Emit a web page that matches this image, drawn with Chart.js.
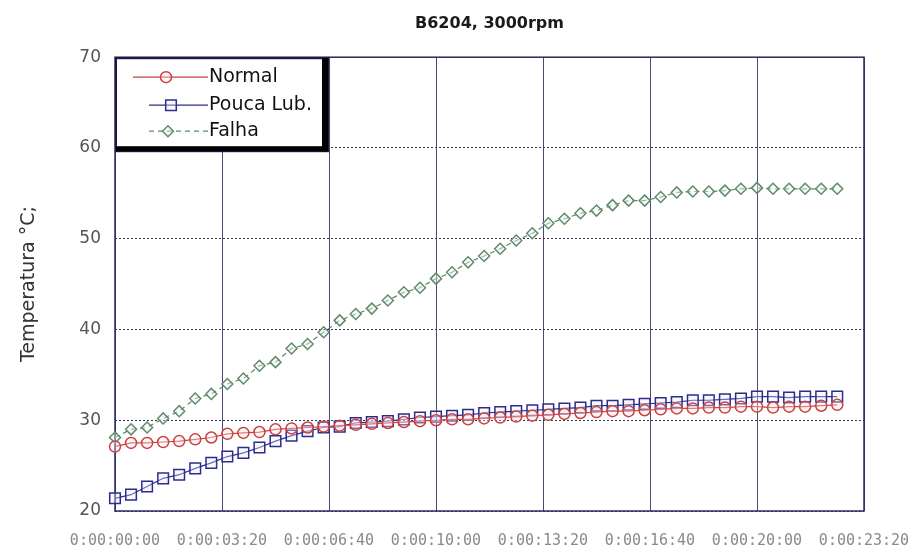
<!DOCTYPE html>
<html>
<head>
<meta charset="utf-8">
<title>B6204, 3000rpm</title>
<script src="https://cdn.jsdelivr.net/npm/chart.js@4.4.1/dist/chart.umd.min.js"></script>
<style>
  html, body { margin: 0; padding: 0; background: #fff; }
  #wrap { width: 913px; height: 553px; }
</style>
</head>
<body>
<div id="wrap"><canvas id="tempChart" width="913" height="553"></canvas></div>
<script>
// ===============================
// Data (time in seconds, temperature in °C)
// ===============================
const timeSec = [0, 30, 60, 90, 120, 150, 180, 210, 240, 270, 300, 330, 360, 390, 420, 450,
  480, 510, 540, 570, 600, 630, 660, 690, 720, 750, 780, 810, 840, 870, 900, 930, 960, 990,
  1020, 1050, 1080, 1110, 1140, 1170, 1200, 1230, 1260, 1290, 1320, 1350];

const xTickValues = [0, 200, 400, 600, 800, 1000, 1200, 1400];
const xTickLabels = ["0:00:00:00", "0:00:03:20", "0:00:06:40", "0:00:10:00",
  "0:00:13:20", "0:00:16:40", "0:00:20:00", "0:00:23:20"];
const yTickValues = [20, 30, 40, 50, 60, 70];

const normalTemps = [27.1, 27.5, 27.5, 27.6, 27.7, 27.9, 28.1, 28.5, 28.6, 28.7, 29.0, 29.1,
  29.2, 29.3, 29.4, 29.5, 29.6, 29.7, 29.8, 29.9, 30.0, 30.1, 30.1, 30.2, 30.3, 30.4, 30.5,
  30.6, 30.7, 30.8, 30.9, 31.0, 31.0, 31.1, 31.2, 31.3, 31.3, 31.4, 31.4, 31.5, 31.5, 31.4,
  31.5, 31.5, 31.6, 31.7];

const poucaLubTemps = [21.4, 21.8, 22.7, 23.6, 24.0, 24.7, 25.3, 26.0, 26.4, 27.0, 27.7, 28.3,
  28.8, 29.2, 29.3, 29.7, 29.8, 29.9, 30.1, 30.3, 30.4, 30.5, 30.6, 30.8, 30.9, 31.0, 31.1,
  31.2, 31.3, 31.4, 31.6, 31.6, 31.7, 31.8, 31.9, 32.0, 32.2, 32.2, 32.3, 32.4, 32.6, 32.6,
  32.5, 32.6, 32.6, 32.6];

const falhaTemps = [28.1, 29.0, 29.2, 30.2, 31.0, 32.4, 32.9, 34.0, 34.6, 36.0, 36.4, 37.9,
  38.4, 39.7, 41.0, 41.7, 42.3, 43.2, 44.1, 44.6, 45.6, 46.3, 47.4, 48.1, 48.9, 49.8, 50.6,
  51.7, 52.2, 52.8, 53.1, 53.7, 54.2, 54.2, 54.6, 55.1, 55.2, 55.2, 55.3, 55.5, 55.6, 55.5,
  55.5, 55.5, 55.5, 55.5];

const seriesNames = ["Normal", "Pouca Lub.", "Falha"];

const toPoints = temps => timeSec.map((t, i) => ({ x: t, y: temps[i] }));

// ===============================
// Plot frame (box round the axes)
// ===============================
const plotFrame = {
  id: "plotFrame",
  beforeDatasetsDraw(chart) {
    const { ctx, chartArea: a } = chart;
    ctx.save();
    ctx.strokeStyle = "#2b2b66";
    ctx.lineWidth = 1.5;
    ctx.strokeRect(a.left, a.top, a.right - a.left, a.bottom - a.top);
    ctx.restore();
  }
};

// ===============================
// Legend box, upper left corner
// ===============================
const legendBox = {
  id: "legendBox",
  afterDatasetsDraw(chart) {
    const { ctx, chartArea: a } = chart;
    const x = a.left + 1, y = a.top + 1, w = 212, h = 93;
    const rows = [
      { y: y + 19, x0: x + 17, marker: x + 50 },
      { y: y + 47, x0: x + 33, marker: x + 55 },
      { y: y + 73, x0: x + 33, marker: x + 52 }
    ];
    ctx.save();
    ctx.fillStyle = "#fff";
    ctx.fillRect(x, y, w, h);
    ctx.strokeStyle = "#1a1a40";
    ctx.lineWidth = 2;
    ctx.strokeRect(x, y, w, h);
    ctx.fillStyle = "#000";
    ctx.fillRect(x + w - 6, y, 6, h);
    ctx.fillRect(x, y + h - 5, w, 5);

    chart.data.datasets.forEach((ds, i) => {
      const r = rows[i];
      ctx.strokeStyle = ds.borderColor;
      ctx.lineWidth = 1.2;
      ctx.setLineDash(ds.borderDash || []);
      ctx.beginPath();
      ctx.moveTo(r.x0, r.y);
      ctx.lineTo(x + 92, r.y);
      ctx.stroke();
      ctx.setLineDash([]);
      ctx.fillStyle = ds.pointBackgroundColor;
      ctx.strokeStyle = ds.pointBorderColor;
      ctx.lineWidth = ds.pointBorderWidth;
      Chart.helpers.drawPoint(ctx, {
        pointStyle: ds.pointStyle, radius: ds.pointRadius, borderWidth: ds.pointBorderWidth, rotation: 0
      }, r.marker, r.y);
      ctx.fillStyle = "#111";
      ctx.font = "19px 'DejaVu Sans'";
      ctx.textBaseline = "middle";
      ctx.fillText(seriesNames[i], x + 93, r.y);
    });
    ctx.restore();
  }
};

// ===============================
// Chart
// ===============================
new Chart(document.getElementById("tempChart"), {
  type: "line",
  data: {
    datasets: [
      {
        label: seriesNames[0],
        data: toPoints(normalTemps),
        borderColor: "#cc4040",
        borderWidth: 1.2,
        pointStyle: "circle",
        pointRadius: 5.5,
        pointBorderWidth: 1.5,
        pointBorderColor: "#cc4040",
        pointBackgroundColor: "rgba(255,235,235,0.35)",
        clip: false
      },
      {
        label: seriesNames[1],
        data: toPoints(poucaLubTemps),
        borderColor: "#2c2c8c",
        borderWidth: 1.2,
        pointStyle: "rect",
        pointRadius: 7.5,
        pointBorderWidth: 1.5,
        pointBorderColor: "#2c2c8c",
        pointBackgroundColor: "rgba(235,235,255,0.35)",
        clip: false
      },
      {
        label: seriesNames[2],
        data: toPoints(falhaTemps),
        borderColor: "#5f8a6c",
        borderWidth: 1.2,
        borderDash: [5, 4],
        pointStyle: "rectRot",
        pointRadius: 5.5,
        pointBorderWidth: 1.5,
        pointBorderColor: "#5f8a6c",
        pointBackgroundColor: "rgba(240,250,240,0.4)",
        clip: false
      }
    ]
  },
  options: {
    responsive: false,
    animation: false,
    layout: { padding: { left: 0, right: 49, top: 0, bottom: 0 } },
    plugins: {
      legend: { display: false },
      tooltip: { enabled: false },
      title: {
        display: true,
        text: "B6204, 3000rpm",
        fullSize: false,
        color: "#1a1a1a",
        font: { family: "DejaVu Sans", size: 16, weight: "bold" },
        padding: { top: 14, bottom: 24 }
      }
    },
    scales: {
      x: {
        type: "linear",
        min: 0,
        max: 1400,
        afterBuildTicks: s => { s.ticks = xTickValues.map(v => ({ value: v })); },
        afterFit: s => { s.height = 42; },
        ticks: {
          callback: (v, i) => xTickLabels[i],
          color: "#8a8a8a",
          font: { family: "DejaVu Sans Mono", size: 15 },
          padding: 3,
          maxRotation: 0,
          autoSkip: false
        },
        // invisible tick marks push the labels down without widening the side padding
        grid: { color: "#4a4a78", lineWidth: 1, drawTicks: true, tickLength: 18, tickColor: "rgba(0,0,0,0)" },
        border: { display: false }
      },
      y: {
        min: 20,
        max: 70,
        afterBuildTicks: s => { s.ticks = yTickValues.map(v => ({ value: v })); },
        afterFit: s => { s.width = 115; },
        ticks: {
          color: "#555",
          font: { family: "DejaVu Sans", size: 17 },
          padding: 14
        },
        grid: { color: "#33335a", lineWidth: 1, drawTicks: false },
        border: { display: false, dash: [2, 2] },
        title: {
          display: true,
          text: "Temperatura °C;",
          color: "#333",
          font: { family: "DejaVu Sans", size: 19 },
          padding: { top: 18, bottom: 0 }
        }
      }
    }
  },
  plugins: [plotFrame, legendBox]
});
</script>
</body>
</html>
